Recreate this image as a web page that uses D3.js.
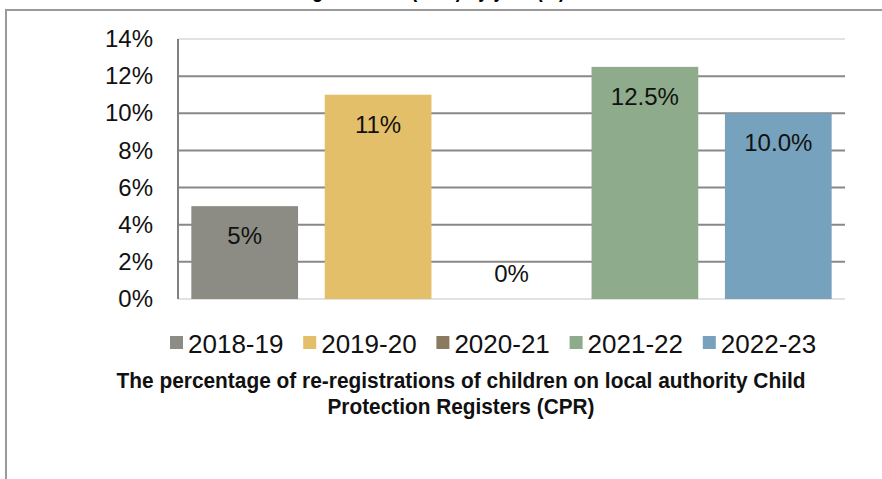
<!DOCTYPE html>
<html>
<head>
    <title>CPR re-registrations</title>
    <script src="https://cdn.jsdelivr.net/npm/d3@7"></script>
    <style>
        body { margin: 0; background: #fff; }
    </style>
</head>
<body>
    <svg width="882" height="479" id="mainsvg"></svg>
    <script>
        // data
        const years = ['2018-19', '2019-20', '2020-21', '2021-22', '2022-23'];
        const values = [5, 11, 0, 12.5, 10];
        const valueLabels = ['5%', '11%', '0%', '12.5%', '10.0%'];
        const colors = ['#8c8c84', '#e4bf6a', '#8a7b60', '#8eab8c', '#77a2bd'];
        const yTicks = [0, 2, 4, 6, 8, 10, 12, 14];
        const caption = ['The percentage of re-registrations of children on local authority Child',
                         'Protection Registers (CPR)'];

        const svg = d3.select('svg');
        const width = +svg.attr('width');

        // frame of the cropped box
        svg.append('path')
            .attr('d', `M6,479 V10 H${width}`)
            .attr('fill', 'none').attr('stroke', '#9a9a9a').attr('stroke-width', 2);

        // title cut off by the crop, only its descenders show
        svg.append('text')
            .attr('x', 415).attr('y', -3)
            .attr('text-anchor', 'middle')
            .attr('font-family', 'Liberation Sans, Arial')
            .attr('font-weight', 'bold').attr('font-size', 22)
            .attr('textLength', 300).attr('lengthAdjust', 'spacingAndGlyphs')
            .text('Re-registrations (CPR) by year (%)');

        const plot = { left: 178, right: 845, top: 39, bottom: 299 };

        const x = d3.scaleBand().domain(years)
            .range([plot.left, plot.right]).paddingInner(0.2).paddingOuter(0.1);
        const y = d3.scaleLinear().domain([0, 14]).range([plot.bottom, plot.top]);

        // gridlines
        svg.append('g').selectAll('line').data(yTicks).join('line')
            .attr('x1', plot.left).attr('x2', plot.right)
            .attr('y1', d => y(d)).attr('y2', d => y(d))
            .attr('stroke', d => (d === 0 || d === 14) ? '#e2e2e2' : '#888')
            .attr('stroke-width', 2);

        // y axis
        const yAxis = d3.axisLeft(y).tickValues(yTicks).tickSize(0).tickPadding(25)
            .tickFormat(d => d + '%');
        const gy = svg.append('g').attr('transform', `translate(${plot.left},0)`).call(yAxis);
        gy.select('.domain').remove();
        gy.selectAll('text')
            .attr('font-family', 'Liberation Sans, Arial').attr('font-size', 24)
            .attr('fill', '#111');
        svg.append('line')
            .attr('x1', plot.left).attr('x2', plot.left)
            .attr('y1', plot.top).attr('y2', plot.bottom)
            .attr('stroke', '#808080').attr('stroke-width', 2);

        // bars
        svg.append('g').selectAll('rect').data(years).join('rect')
            .attr('x', d => x(d))
            .attr('width', x.bandwidth())
            .attr('y', (d, i) => y(values[i]))
            .attr('height', (d, i) => y(0) - y(values[i]))
            .attr('fill', (d, i) => colors[i]);

        // value labels
        svg.append('g').selectAll('text').data(years).join('text')
            .attr('x', d => x(d) + x.bandwidth() / 2)
            .attr('y', (d, i) => values[i] > 0 ? y(values[i]) + 38 : y(0) - 17)
            .attr('text-anchor', 'middle')
            .attr('font-family', 'Liberation Sans, Arial').attr('font-size', 24)
            .attr('fill', '#111')
            .text((d, i) => valueLabels[i]);

        // legend
        const legend = svg.append('g').selectAll('g').data(years).join('g')
            .attr('transform', (d, i) => `translate(${170 + i * 133.2},343)`);
        legend.append('rect')
            .attr('x', 0).attr('y', -7).attr('width', 13).attr('height', 13)
            .attr('fill', (d, i) => colors[i]);
        legend.append('text')
            .attr('x', 18).attr('y', 10)
            .attr('font-family', 'Liberation Sans, Arial').attr('font-size', 26)
            .attr('fill', '#111')
            .text(d => d);

        // caption under the legend, squeezed to look like a condensed face
        svg.append('g').selectAll('text').data(caption).join('text')
            .attr('x', 461)
            .attr('y', (d, i) => 388 + i * 26)
            .attr('text-anchor', 'middle')
            .attr('font-family', 'Liberation Sans, Arial')
            .attr('font-weight', 'bold').attr('font-size', 22)
            .attr('textLength', (d, i) => i === 0 ? 689 : 267)
            .attr('lengthAdjust', 'spacingAndGlyphs')
            .attr('fill', '#111')
            .text(d => d);
    </script>
</body>
</html>
